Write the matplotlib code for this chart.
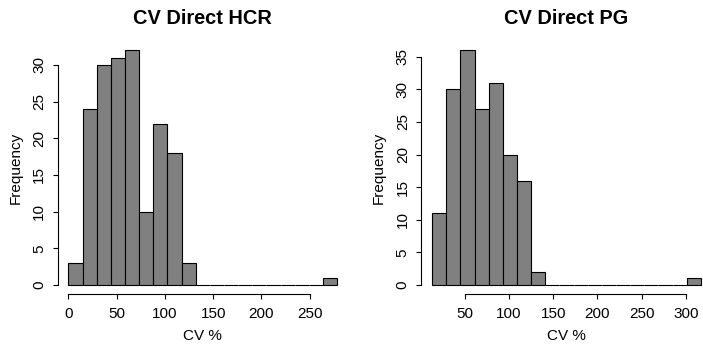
import numpy as np
import matplotlib
matplotlib.use("Agg")
import matplotlib.pyplot as plt

plt.rcParams['font.family'] = ['Liberation Sans', 'DejaVu Sans']

# histogram data (19 equal bins each)
hcr_counts = [3, 24, 30, 31, 32, 10, 22, 18, 3, 0, 0, 0, 0, 0, 0, 0, 0, 0, 1]
hcr_range = (0.0, 278.5)
hcr_xticks = [0, 50, 100, 150, 200, 250]
hcr_yticks = [0, 5, 10, 15, 20, 25, 30]

pg_counts = [11, 30, 36, 27, 31, 20, 16, 2, 0, 0, 0, 0, 0, 0, 0, 0, 0, 0, 1]
pg_range = (13.1, 317.0)
pg_xticks = [50, 100, 150, 200, 250, 300]
pg_yticks = [0, 5, 10, 15, 20, 25, 30, 35]

titles = ["CV Direct HCR", "CV Direct PG"]


def r_hist(ax, counts, rng, xticks, yticks, title):
    edges = np.linspace(rng[0], rng[1], len(counts) + 1)
    ax.bar(edges[:-1], counts, width=np.diff(edges), align='edge',
           color='#808080', edgecolor='black', linewidth=0.8)
    # R style 4% padding
    dx = (rng[1] - rng[0]) * 0.04
    ymax = max(counts)
    ax.set_xlim(rng[0] - dx, rng[1] + dx)
    ax.set_ylim(-ymax * 0.04, ymax * 1.04)
    ax.set_xticks(xticks)
    ax.set_yticks(yticks)
    for s in ['top', 'right']:
        ax.spines[s].set_visible(False)
    ax.spines['bottom'].set_bounds(xticks[0], xticks[-1])
    ax.spines['left'].set_bounds(yticks[0], yticks[-1])
    ax.spines['bottom'].set_linewidth(0.8)
    ax.spines['left'].set_linewidth(0.8)
    ax.tick_params(length=3.8, width=0.8, labelsize=11)
    ax.tick_params(axis='x', pad=5)
    ax.tick_params(axis='y', labelrotation=90, pad=4.5)
    for lab in ax.get_yticklabels():
        lab.set_va('center')
    ax.set_xlabel("CV %", fontsize=11, labelpad=6)
    ax.set_ylabel("Frequency", fontsize=11, labelpad=7)
    ax.set_title(title, fontsize=14.4, fontweight='bold', pad=12)


fig = plt.figure(figsize=(7.03, 3.45), dpi=100)
ax1 = fig.add_axes([57.6 / 703, 50.6 / 345, 290.4 / 703, 253.6 / 345])
ax2 = fig.add_axes([421.3 / 703, 50.6 / 345, 290.4 / 703, 253.6 / 345])

r_hist(ax1, hcr_counts, hcr_range, hcr_xticks, hcr_yticks, titles[0])
r_hist(ax2, pg_counts, pg_range, pg_xticks, pg_yticks, titles[1])

fig.savefig("out.png", dpi=100)
